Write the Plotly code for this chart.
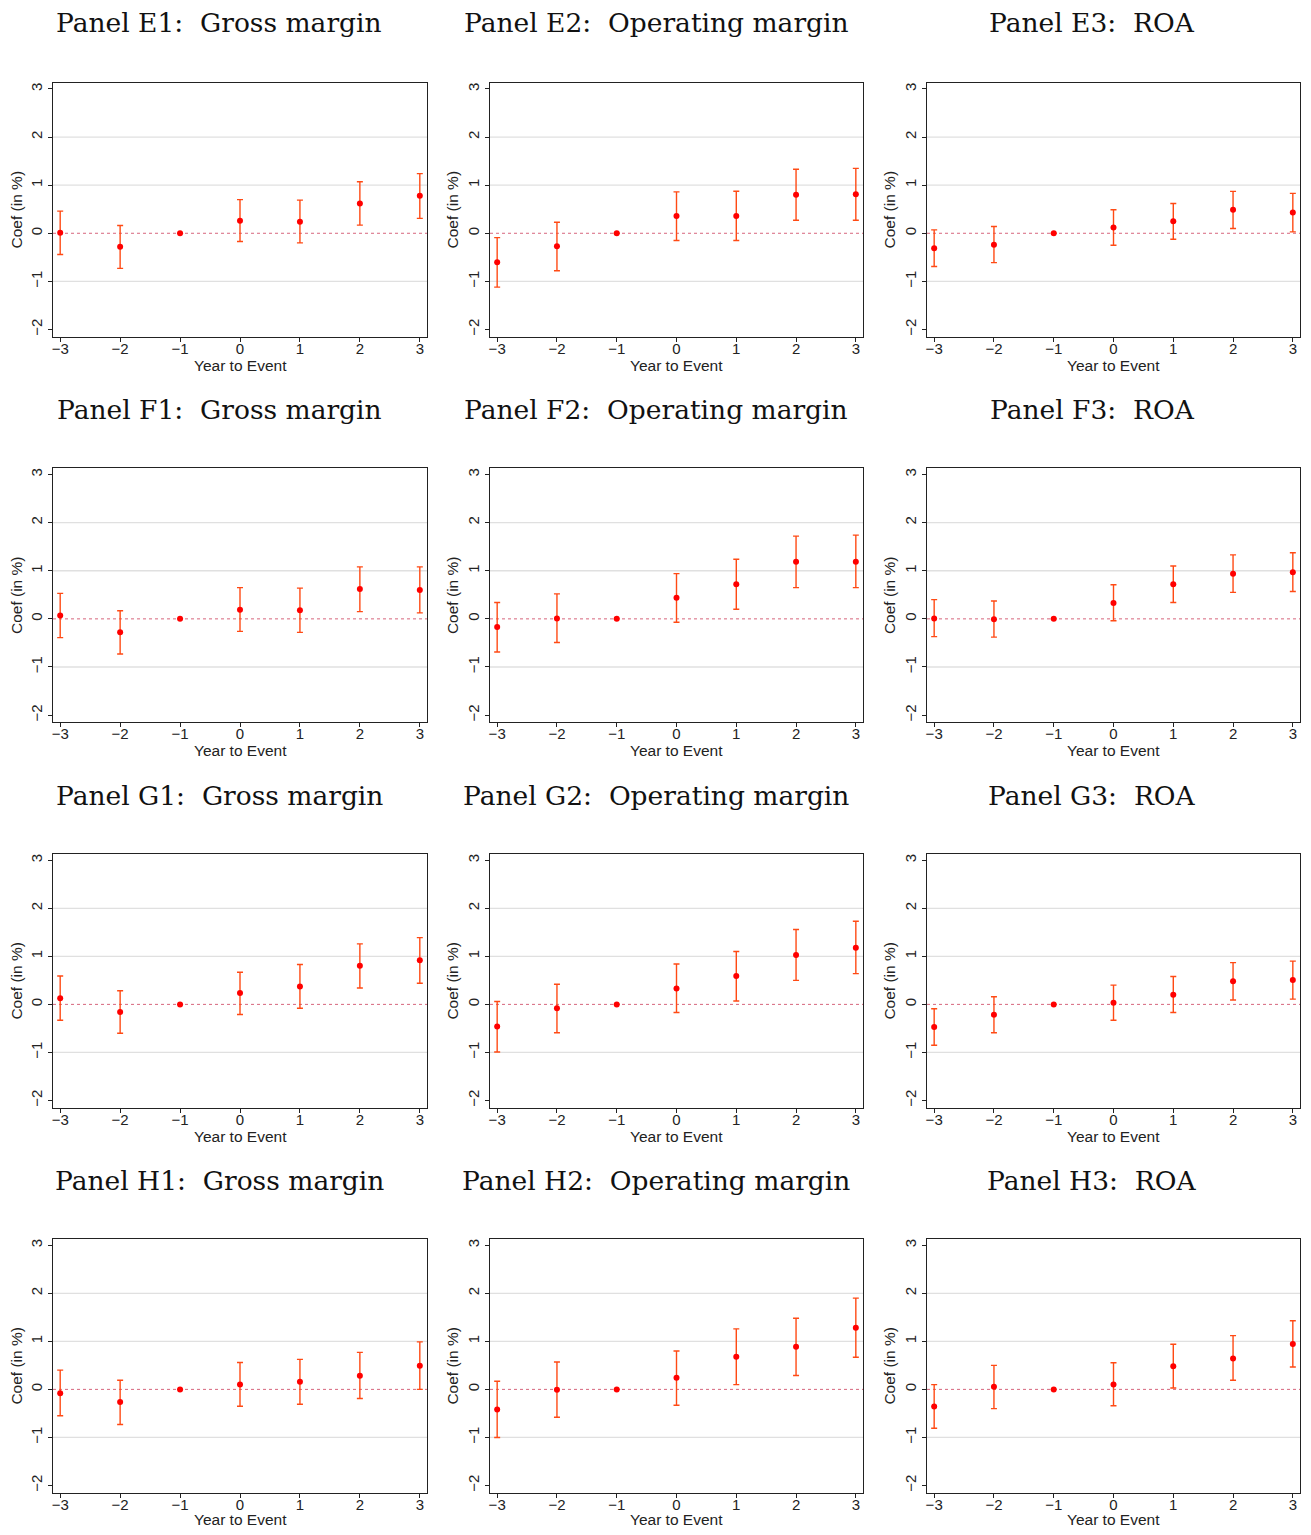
import plotly.graph_objects as go

years = [-3, -2, -1, 0, 1, 2, 3]

panel_titles = [
    "Panel E1:  Gross margin", "Panel E2:  Operating margin", "Panel E3:  ROA",
    "Panel F1:  Gross margin", "Panel F2:  Operating margin", "Panel F3:  ROA",
    "Panel G1:  Gross margin", "Panel G2:  Operating margin", "Panel G3:  ROA",
    "Panel H1:  Gross margin", "Panel H2:  Operating margin", "Panel H3:  ROA",
]
x_title = "Year to Event"
y_title = "Coef (in %)"

# coefficients, upper and lower CI bounds (in %)
E1_coef = [0.01, -0.28, 0.0, 0.26, 0.24, 0.62, 0.78]
E1_hi = [0.46, 0.16, 0.0, 0.70, 0.69, 1.07, 1.24]
E1_lo = [-0.44, -0.73, 0.0, -0.17, -0.20, 0.17, 0.31]

E2_coef = [-0.60, -0.27, 0.0, 0.36, 0.36, 0.80, 0.81]
E2_hi = [-0.09, 0.23, 0.0, 0.86, 0.875, 1.33, 1.35]
E2_lo = [-1.12, -0.78, 0.0, -0.15, -0.15, 0.27, 0.27]

E3_coef = [-0.31, -0.24, 0.0, 0.12, 0.25, 0.49, 0.43]
E3_hi = [0.07, 0.14, 0.0, 0.49, 0.62, 0.87, 0.83]
E3_lo = [-0.69, -0.61, 0.0, -0.25, -0.125, 0.10, 0.03]

F1_coef = [0.07, -0.28, 0.0, 0.19, 0.18, 0.62, 0.60]
F1_hi = [0.53, 0.17, 0.0, 0.65, 0.64, 1.08, 1.08]
F1_lo = [-0.39, -0.73, 0.0, -0.26, -0.28, 0.15, 0.125]

F2_coef = [-0.17, 0.01, 0.0, 0.44, 0.72, 1.19, 1.19]
F2_hi = [0.34, 0.52, 0.0, 0.94, 1.24, 1.72, 1.74]
F2_lo = [-0.69, -0.49, 0.0, -0.07, 0.20, 0.65, 0.65]

F3_coef = [0.01, -0.01, 0.0, 0.33, 0.72, 0.94, 0.97]
F3_hi = [0.40, 0.37, 0.0, 0.71, 1.10, 1.33, 1.375]
F3_lo = [-0.37, -0.38, 0.0, -0.04, 0.34, 0.55, 0.57]

G1_coef = [0.13, -0.16, 0.0, 0.235, 0.375, 0.805, 0.92]
G1_hi = [0.59, 0.285, 0.0, 0.67, 0.83, 1.26, 1.39]
G1_lo = [-0.33, -0.60, 0.0, -0.21, -0.08, 0.34, 0.44]

G2_coef = [-0.46, -0.08, 0.0, 0.33, 0.59, 1.03, 1.18]
G2_hi = [0.06, 0.42, 0.0, 0.84, 1.10, 1.56, 1.73]
G2_lo = [-0.99, -0.59, 0.0, -0.17, 0.07, 0.50, 0.64]

G3_coef = [-0.47, -0.215, 0.0, 0.035, 0.20, 0.48, 0.51]
G3_hi = [-0.09, 0.16, 0.0, 0.40, 0.58, 0.87, 0.90]
G3_lo = [-0.85, -0.59, 0.0, -0.33, -0.17, 0.09, 0.11]

H1_coef = [-0.08, -0.26, 0.0, 0.10, 0.16, 0.285, 0.49]
H1_hi = [0.40, 0.19, 0.0, 0.56, 0.625, 0.77, 0.99]
H1_lo = [-0.55, -0.73, 0.0, -0.35, -0.31, -0.19, 0.0]

H2_coef = [-0.42, -0.01, 0.0, 0.24, 0.68, 0.89, 1.285]
H2_hi = [0.17, 0.57, 0.0, 0.80, 1.26, 1.48, 1.90]
H2_lo = [-1.00, -0.58, 0.0, -0.33, 0.10, 0.29, 0.67]

H3_coef = [-0.355, 0.055, 0.0, 0.10, 0.48, 0.645, 0.945]
H3_hi = [0.10, 0.50, 0.0, 0.555, 0.94, 1.12, 1.43]
H3_lo = [-0.81, -0.40, 0.0, -0.34, 0.03, 0.19, 0.465]

panels = [
    (E1_coef, E1_hi, E1_lo), (E2_coef, E2_hi, E2_lo), (E3_coef, E3_hi, E3_lo),
    (F1_coef, F1_hi, F1_lo), (F2_coef, F2_hi, F2_lo), (F3_coef, F3_hi, F3_lo),
    (G1_coef, G1_hi, G1_lo), (G2_coef, G2_hi, G2_lo), (G3_coef, G3_hi, G3_lo),
    (H1_coef, H1_hi, H1_lo), (H2_coef, H2_hi, H2_lo), (H3_coef, H3_hi, H3_lo),
]

y_ticks = [-2, -1, 0, 1, 2, 3]
grid_levels = [-1, 1, 2]

# page offset of the figure (default body margin)
OFF = 8
W, H = 1311 - 2 * OFF, 1535 - 2 * OFF
col_px = [(53, 427), (490, 863), (927, 1300)]
row_px = [(82.7, 336.7), (468.3, 722.3), (854, 1107.7), (1239, 1492.7)]
title_y_px = [23, 409, 795, 1180]
title_x_px = [219, 656, 1092]
xt_gap_px = [28.5, 28.5, 28.5, 26.5]  # px from plot bottom to x-title centre

fig = go.Figure()
layout = {}
shapes = []
annotations = []

sans = "Liberation Sans, Arial, sans-serif"

for i, (coef, hi, lo) in enumerate(panels):
    r, c = divmod(i, 3)
    n = i + 1
    xa = "x" if n == 1 else f"x{n}"
    ya = "y" if n == 1 else f"y{n}"
    plus = [h - m for h, m in zip(hi, coef)]
    minus = [m - l for m, l in zip(coef, lo)]
    fig.add_trace(go.Scatter(
        x=years, y=coef, mode="markers", xaxis=xa, yaxis=ya,
        marker=dict(color="#ff0000", size=6),
        error_y=dict(type="data", symmetric=False, array=plus, arrayminus=minus,
                     color="#ff4a14", thickness=1.4, width=3),
        showlegend=False, hoverinfo="skip",
    ))
    x0, x1 = [v - OFF for v in col_px[c]]
    t0, t1 = [v - OFF for v in row_px[r]]
    axis_font = dict(family=sans, size=15, color="#222")
    layout["xaxis" if n == 1 else f"xaxis{n}"] = dict(
        domain=[x0 / W, x1 / W], anchor=ya, range=[-3.12, 3.12], automargin=False,
        tickmode="array", tickvals=years, ticks="outside", ticklen=4, tickcolor="#222",
        ticklabelstandoff=-6,
        showgrid=False, zeroline=False, showline=True, linecolor="#222", linewidth=1.2,
        mirror=True, tickfont=axis_font,
    )
    layout["yaxis" if n == 1 else f"yaxis{n}"] = dict(
        domain=[1 - t1 / H, 1 - t0 / H], anchor=xa, range=[-2.15, 3.13], automargin=False,
        tickmode="array", tickvals=y_ticks, ticks="outside", ticklen=4, tickcolor="#222",
        tickangle=-90, showgrid=False, zeroline=False, showline=True, linecolor="#222",
        linewidth=1.2, mirror=True, tickfont=axis_font,
        title=dict(text=y_title, font=dict(family=sans, size=15.5, color="#222"), standoff=2),
    )
    for g in grid_levels:
        shapes.append(dict(type="line", xref=f"{xa} domain", yref=ya, x0=0, x1=1, y0=g, y1=g,
                           line=dict(color="#e0e0e0", width=1.3), layer="below"))
    shapes.append(dict(type="line", xref=f"{xa} domain", yref=ya, x0=0, x1=1, y0=0, y1=0,
                       line=dict(color="rgba(200,50,80,0.75)", width=1, dash="dot"), layer="below"))
    annotations.append(dict(
        text=panel_titles[i].replace("  ", "\u00a0 "), xref="paper", yref="paper",
        x=(title_x_px[c] - OFF) / W, y=1 - (title_y_px[r] - OFF) / H,
        xanchor="center", yanchor="middle", borderpad=0,
        showarrow=False, font=dict(family="DejaVu Serif, serif", size=26.5, color="#111"),
    ))
    annotations.append(dict(
        text=x_title, xref=f"{xa} domain", yref="paper", x=0.5,
        y=1 - (t1 + xt_gap_px[r]) / H, xanchor="center", yanchor="middle", borderpad=0,
        showarrow=False, font=dict(family=sans, size=15.5, color="#222"),
    ))

fig.update_layout(
    width=W, height=H, margin=dict(l=0, r=0, t=0, b=0),
    paper_bgcolor="white", plot_bgcolor="white",
    shapes=shapes, annotations=annotations, **layout,
)

fig.write_html("out.html")
